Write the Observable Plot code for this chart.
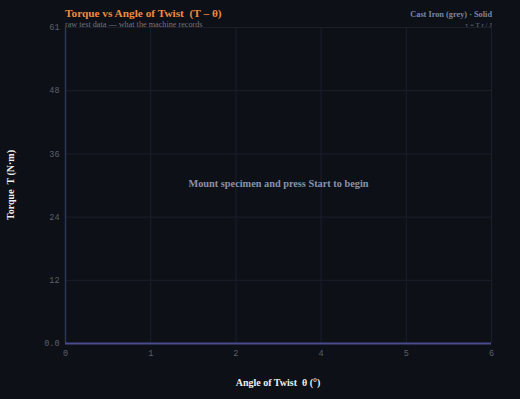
<!DOCTYPE html>
<html>
<head>
<meta charset="utf-8">
<script src="https://cdn.jsdelivr.net/npm/d3@7"></script>
<script src="https://cdn.jsdelivr.net/npm/@observablehq/plot@0.6"></script>
<style>
  html, body { margin: 0; padding: 0; background: #0d1017; }
  #chart { width: 520px; height: 399px; overflow: hidden; }
  svg { display: block; }
</style>
</head>
<body>
<div id="chart"></div>
<script>
// Data (no samples recorded yet)
const angleDeg = [];
const torqueNm = [];
const xTicks = [0, 1.2, 2.4, 3.6, 4.8, 6];
const xTickLabels = ["0", "1", "2", "4", "5", "6"];
const yTicks = [0, 12.2, 24.4, 36.6, 48.8, 61];
const yTickLabels = ["0.0", "12", "24", "36", "48", "61"];
const xDomain = [0, 6];
const yDomain = [0, 61];
const titleText = "Torque vs Angle of Twist  (T – θ)";
const subtitleText = "raw test data — what the machine records";
const materialText = "Cast Iron (grey) · Solid";
const formulaText = "τ = T r / J";
const xLabelText = "Angle of Twist  θ (°)";
const yLabelText = "Torque  T (N·m)";
const placeholderText = "Mount specimen and press Start to begin";

const samples = angleDeg.map((a, i) => ({angle: a, torque: torqueNm[i]}));
const serif = "'Liberation Serif', 'DejaVu Serif', serif";
const mono = "'Liberation Mono', 'DejaVu Sans Mono', monospace";

const W = 520, H = 399;
const ml = 65, mr = 29, mt = 27, mb = 56;

const plot = Plot.plot({
  width: W,
  height: H,
  marginLeft: ml,
  marginRight: mr,
  marginTop: mt,
  marginBottom: mb,
  style: {background: "#0d1017", fontFamily: mono, fontSize: "8.5px", color: "#5a606e", overflow: "visible"},
  x: {domain: xDomain, ticks: xTicks, tickFormat: d => xTickLabels[xTicks.indexOf(d)], label: null, tickSize: 0, tickPadding: 6},
  y: {domain: yDomain, ticks: yTicks, tickFormat: d => yTickLabels[yTicks.indexOf(d)], label: null, tickSize: 0, tickPadding: 6},
  marks: [
    Plot.gridX(xTicks, {stroke: "#1a1f2c", strokeOpacity: 1, strokeWidth: 1}),
    Plot.gridY(yTicks, {stroke: "#1a1f2c", strokeOpacity: 1, strokeWidth: 1}),
    Plot.ruleX([0], {stroke: "#2b3656", strokeWidth: 1.5}),
    Plot.ruleY([0], {stroke: "#4a4a8e", strokeWidth: 2}),
    Plot.line(samples, {x: "angle", y: "torque", stroke: "#f08a3c", strokeWidth: 2}),
    Plot.text([placeholderText], {frameAnchor: "middle", text: d => d, fill: "#8a90aa", fontFamily: serif, fontWeight: "bold", fontSize: 10.3, dy: -2})
  ]
});

const svg = d3.select(plot);
svg.selectAll("[aria-label='x-axis tick label'] text, [aria-label='y-axis tick label'] text").attr("fill", "#5a606e");

function addText(x, y, txt, opts) {
  const t = svg.append("text")
    .attr("x", x).attr("y", y)
    .attr("font-family", serif)
    .attr("font-size", opts.size)
    .attr("font-weight", opts.weight || "normal")
    .attr("fill", opts.fill)
    .attr("text-anchor", opts.anchor || "start")
    .text(txt);
  if (opts.rotate) t.attr("transform", `rotate(-90, ${x}, ${y})`);
  return t;
}

addText(65, 17, titleText, {size: 11.3, weight: "bold", fill: "#f08a3c"});
addText(65, 27, subtitleText, {size: 8.2, fill: "#6e7484"});
addText(492, 17, materialText, {size: 8.3, weight: "bold", fill: "#7c84a2", anchor: "end"});
addText(492, 27, formulaText, {size: 7, fill: "#666c80", anchor: "end"});
addText(278, 386, xLabelText, {size: 10, weight: "bold", fill: "#eeeeee", anchor: "middle"});
addText(14, 185, yLabelText, {size: 10, weight: "bold", fill: "#eeeeee", anchor: "middle", rotate: true});

document.getElementById("chart").appendChild(plot);
</script>
</body>
</html>
